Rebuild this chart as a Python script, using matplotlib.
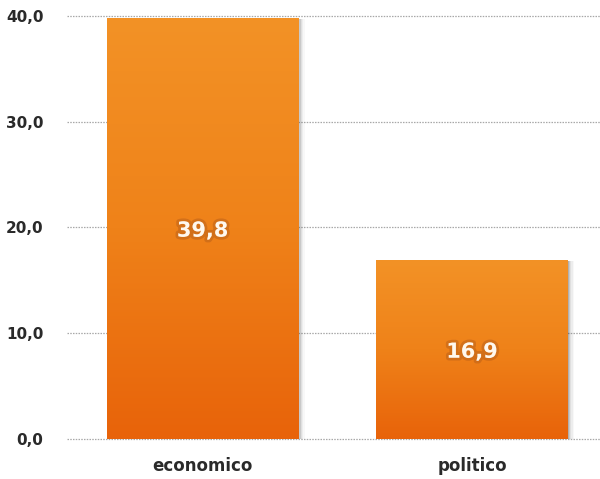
import numpy as np
import matplotlib.pyplot as plt
import matplotlib.ticker as mticker
import matplotlib.patheffects as pe
from matplotlib.colors import LinearSegmentedColormap

categorias = ['economico', 'politico']
valores = [39.8, 16.9]

plt.rcParams['font.family'] = ['DejaVu Sans']

fig = plt.figure(figsize=(6.0, 4.79), dpi=100)
ax = fig.add_axes([0.112, 0.0835, 0.888, 0.8832])

x = np.arange(len(categorias))
ancho = 0.71

# sombra a la derecha
for k, a in enumerate([0.16, 0.12, 0.08, 0.05, 0.03]):
    off = 0.004 + k * 0.005
    ax.bar(x + off, [v - 0.1 for v in valores], width=ancho, color='#333333', alpha=a,
           linewidth=0, zorder=2)

bars = ax.bar(x, valores, width=ancho, color='#EE7A12', linewidth=0, zorder=3)

# degradado naranja
cmap = LinearSegmentedColormap.from_list('nar', ['#E8630A', '#EF8219', '#F39226'])
grad = np.linspace(0, 1, 256).reshape(-1, 1)
for b in bars:
    x0, y0 = b.get_x(), b.get_y()
    im = ax.imshow(grad, cmap=cmap, aspect='auto', origin='lower',
                   extent=[x0, x0 + b.get_width(), y0, y0 + b.get_height()],
                   zorder=3.5)
    im.set_clip_path(b)

# etiquetas de valor
for i, v in enumerate(valores):
    ax.text(x[i], v / 2 - 0.2, f'{v:.1f}'.replace('.', ','), ha='center', va='center',
            fontsize=15, fontweight='bold', color='#FFF8EE', zorder=5,
            path_effects=[pe.withStroke(linewidth=4, foreground='#A0501A', alpha=0.35)])

ax.set_xlim(-0.503, 1.475)
ax.set_ylim(0, 40)
ax.yaxis.set_major_locator(mticker.MultipleLocator(10))
ax.yaxis.set_major_formatter(mticker.FuncFormatter(lambda v, p: f'{v:.1f}'.replace('.', ',')))
ax.set_xticks(x)
ax.set_xticklabels(categorias, fontsize=12, fontweight='bold', color='#2a2a2a')
for t in ax.get_yticklabels():
    t.set_fontsize(11)
    t.set_fontweight('bold')
    t.set_color('#2a2a2a')
ax.tick_params(axis='both', length=0)
ax.tick_params(axis='y', pad=17)
ax.tick_params(axis='x', pad=13)

ax.yaxis.grid(True, linestyle=(0, (1.2, 1.0)), linewidth=0.9, color='#a8a8a8', zorder=1)
for gl in ax.get_ygridlines():
    gl.set_clip_on(False)
ax.set_axisbelow(True)
for s in ax.spines.values():
    s.set_visible(False)

fig.savefig('out.png', dpi=100)
